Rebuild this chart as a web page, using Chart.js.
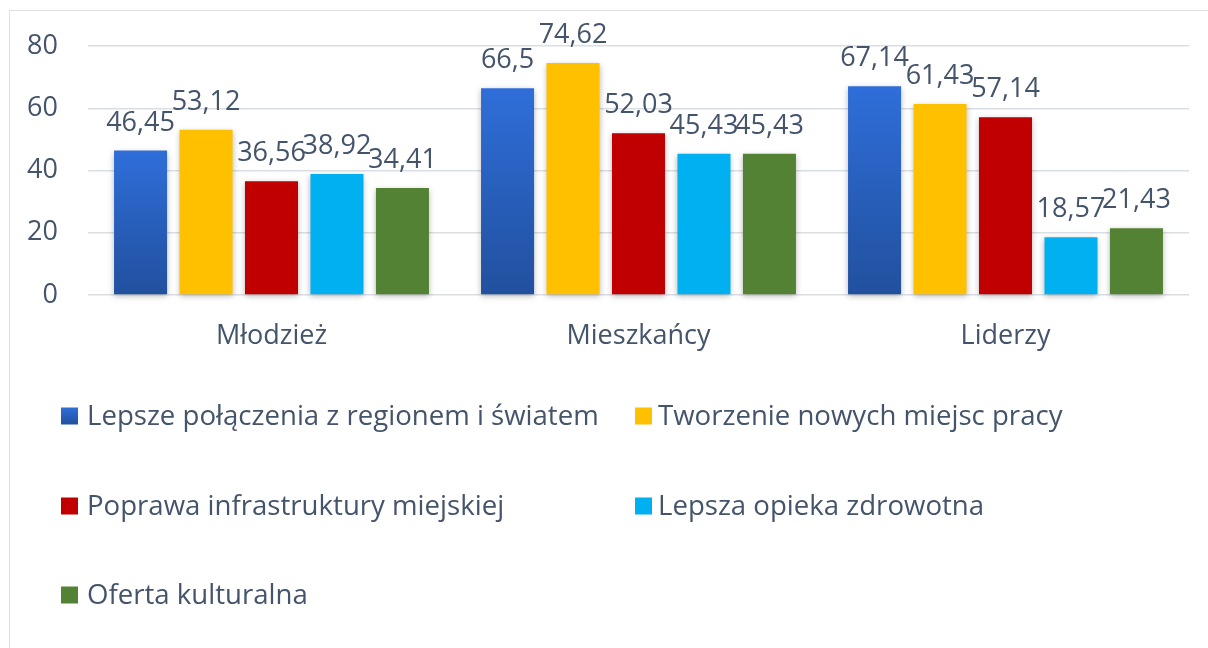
<!DOCTYPE html>
<html lang="pl">
<head>
<meta charset="utf-8">
<title>Priorytety rozwoju miasta</title>
<script src="https://cdn.jsdelivr.net/npm/chart.js@4.4.1/dist/chart.umd.min.js"></script>
<style>
  html, body { margin: 0; padding: 0; background: #fff; overflow: hidden; }
  #frame { position: absolute; left: 9px; top: 10px; width: 1400px; height: 900px; border: 1px solid #DEE0E5; }
  #chart { position: absolute; left: 0; top: 0; }
</style>
</head>
<body>
<div id="frame"></div>
<canvas id="chart" width="1208" height="648"></canvas>
<script>
// respondent groups on the x axis
const groups = ['Młodzież', 'Mieszkańcy', 'Liderzy'];

const seriesNames = [
  'Lepsze połączenia z regionem i światem',
  'Tworzenie nowych miejsc pracy',
  'Poprawa infrastruktury miejskiej',
  'Lepsza opieka zdrowotna',
  'Oferta kulturalna'
];

// percentages per group, same order as groups
const connections = [46.45, 66.5, 67.14];
const jobs = [53.12, 74.62, 61.43];
const infrastructure = [36.56, 52.03, 57.14];
const healthcare = [38.92, 45.43, 18.57];
const culture = [34.41, 45.43, 21.43];

const yTicks = [0, 20, 40, 60, 80];

const textColor = '#44546A';
const fontFamily = '"Open Sans", Lato, sans-serif';
const fontSize = 27;
const legendFontSize = 27.6;

// blue series is shaded from top to bottom of each bar
function blueFill(ctx, top, bottom) {
  const g = ctx.createLinearGradient(0, top, 0, bottom);
  g.addColorStop(0, '#2F6ED9');
  g.addColorStop(1, '#21509E');
  return g;
}

function blueBar(context) {
  const chart = context.chart;
  const y = chart.scales.y;
  if (!chart.chartArea || !y || !context.parsed) return '#2A61C2';
  return blueFill(chart.ctx, y.getPixelForValue(context.parsed.y), y.getPixelForValue(0));
}

const seriesData = [connections, jobs, infrastructure, healthcare, culture];
const seriesColors = [blueBar, '#FFC000', '#C00000', '#00B0F0', '#548235'];

// soft shadow under the bars, then the value labels on top
const barDecor = {
  id: 'barDecor',
  beforeDatasetsDraw(chart) {
    const ctx = chart.ctx;
    ctx.save();
    ctx.shadowColor = 'rgba(0, 0, 0, 0.28)';
    ctx.shadowBlur = 6;
    ctx.shadowOffsetX = 0;
    ctx.shadowOffsetY = 2;
  },
  afterDatasetsDraw(chart) {
    const ctx = chart.ctx;
    ctx.restore();

    ctx.save();
    ctx.font = `${fontSize}px ${fontFamily}`;
    ctx.fillStyle = textColor;
    ctx.textAlign = 'center';
    ctx.textBaseline = 'alphabetic';
    chart.data.datasets.forEach((ds, i) => {
      chart.getDatasetMeta(i).data.forEach((bar, j) => {
        ctx.fillText(String(ds.data[j]).replace('.', ','), bar.x, bar.y - 20);
      });
    });
    ctx.restore();
  }
};

// legend laid out in two columns below the plot
const gridLegend = {
  id: 'gridLegend',
  afterDraw(chart, args, opts) {
    const ctx = chart.ctx;
    ctx.save();
    ctx.font = `${legendFontSize}px ${fontFamily}`;
    ctx.textAlign = 'left';
    ctx.textBaseline = 'alphabetic';
    chart.data.datasets.forEach((ds, i) => {
      const col = i % 2;
      const row = Math.floor(i / 2);
      const bx = opts.boxX[col];
      const cy = opts.rowY[row];
      const s = opts.boxSize;
      ctx.fillStyle = i === 0 ? blueFill(ctx, cy - s / 2, cy + s / 2) : ds.backgroundColor;
      ctx.fillRect(bx, cy - s / 2, s, s);
      ctx.fillStyle = textColor;
      ctx.fillText(ds.label, opts.textX[col], cy + 9);
    });
    ctx.restore();
  }
};

const datasets = seriesNames.map((name, i) => ({
  label: name,
  data: seriesData[i],
  backgroundColor: seriesColors[i],
  borderWidth: 0,
  categoryPercentage: 0.892,
  barPercentage: 0.81,
  clip: false
}));

new Chart(document.getElementById('chart'), {
  type: 'bar',
  data: { labels: groups, datasets: datasets },
  options: {
    responsive: false,
    animation: false,
    layout: { padding: { left: 20, top: 43, right: 19, bottom: 293 } },
    plugins: {
      legend: { display: false },
      tooltip: { enabled: false },
      gridLegend: {
        boxX: [61, 635],
        textX: [87, 658],
        rowY: [416, 506, 595],
        boxSize: 17
      }
    },
    scales: {
      x: {
        grid: { display: false, drawTicks: false },
        border: { display: false },
        ticks: {
          color: textColor,
          font: { family: fontFamily, size: fontSize },
          padding: 25
        },
        afterFit(scale) { scale.height = 60; }
      },
      y: {
        min: yTicks[0],
        max: yTicks[yTicks.length - 1],
        grid: { color: '#DADEE5', lineWidth: 1.5, drawTicks: false },
        border: { display: false },
        ticks: {
          stepSize: yTicks[1] - yTicks[0],
          color: textColor,
          font: { family: fontFamily, size: fontSize },
          padding: 30
        },
        afterFit(scale) { scale.width = 68; }
      }
    }
  },
  plugins: [barDecor, gridLegend]
});
</script>
</body>
</html>
